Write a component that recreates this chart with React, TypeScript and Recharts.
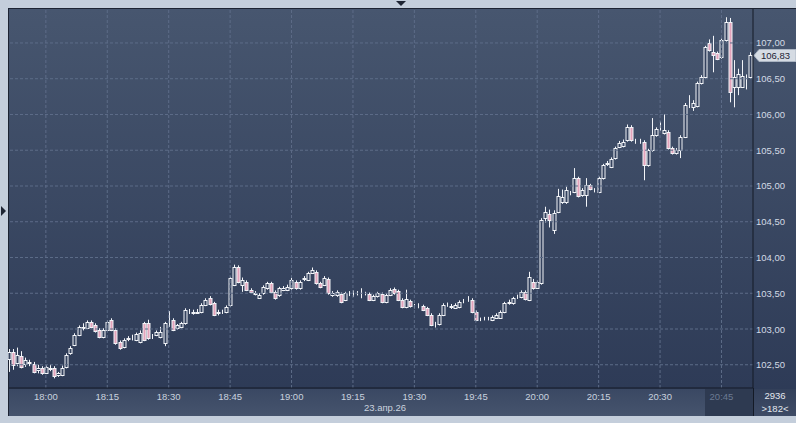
import React from "react";
import { ComposedChart, Bar, XAxis, YAxis, ReferenceLine } from "recharts";

// one candle per minute, first one at 17:51 (minute -9 from 18:00)
const startMinute = -9;

const opens = [
  102.58, 102.68, 102.52, 102.62, 102.51, 102.52, 102.51, 102.42, 102.45, 102.39,
  102.44, 102.45, 102.36, 102.36, 102.47, 102.66, 102.78, 102.92, 103.02, 103.02,
  103.10, 103.06, 102.99, 102.89, 102.99, 103.13, 102.99, 102.82, 102.75, 102.86,
  102.87, 102.85, 102.82, 103.08, 103.08, 102.89, 102.92, 102.89, 102.80, 103.12,
  103.13, 103.01, 103.03, 103.08, 103.24, 103.24, 103.23, 103.24, 103.34, 103.43,
  103.36, 103.22, 103.24, 103.24, 103.33, 103.62, 103.87, 103.62, 103.66, 103.54,
  103.51, 103.44, 103.50, 103.57, 103.64, 103.52, 103.47, 103.55, 103.55, 103.57,
  103.66, 103.57, 103.70, 103.69, 103.79, 103.80, 103.64, 103.62, 103.70, 103.47,
  103.47, 103.49, 103.41, 103.50, 103.49, 103.50, 103.49, 103.50, 103.49, 103.41,
  103.46, 103.49, 103.38, 103.48, 103.56, 103.53, 103.41, 103.31, 103.39, 103.32,
  103.32, 103.32, 103.29, 103.20, 103.07, 103.07, 103.20, 103.34, 103.32, 103.30,
  103.31, 103.39, 103.41, 103.41, 103.24, 103.14, 103.15, 103.15, 103.13, 103.16,
  103.16, 103.24, 103.37, 103.36, 103.45, 103.45, 103.52, 103.41, 103.66, 103.58,
  103.64, 104.55, 104.61, 104.39, 104.64, 104.78, 104.77, 104.90, 104.92, 105.11,
  104.87, 104.88, 105.01, 104.94, 104.92, 105.11, 105.31, 105.27, 105.39, 105.55,
  105.56, 105.64, 105.83, 105.62, 105.62, 105.62, 105.29, 105.50, 105.71, 105.80,
  105.74, 105.76, 105.53, 105.46, 105.50, 105.69, 106.16, 106.11, 106.12, 106.44,
  106.52, 107.00, 106.87, 106.86, 106.80, 107.04, 107.29, 106.38, 106.38, 106.39,
  106.53, 106.52,
];

const highs = [
  102.72, 102.72, 102.74, 102.69, 102.60, 102.57, 102.54, 102.50, 102.48, 102.49,
  102.50, 102.48, 102.40, 102.49, 102.66, 102.76, 102.94, 103.05, 103.08, 103.12,
  103.12, 103.08, 103.01, 103.01, 103.12, 103.15, 103.01, 102.84, 102.87, 102.90,
  102.92, 102.95, 102.98, 103.10, 103.13, 102.93, 102.98, 103.03, 103.10, 103.25,
  103.15, 103.07, 103.10, 103.29, 103.28, 103.27, 103.28, 103.36, 103.43, 103.46,
  103.38, 103.27, 103.27, 103.33, 103.73, 103.90, 103.89, 103.72, 103.68, 103.57,
  103.53, 103.50, 103.61, 103.66, 103.66, 103.54, 103.59, 103.60, 103.62, 103.72,
  103.68, 103.68, 103.74, 103.80, 103.86, 103.82, 103.66, 103.74, 103.72, 103.53,
  103.54, 103.51, 103.52, 103.53, 103.54, 103.53, 103.57, 103.52, 103.51, 103.48,
  103.52, 103.51, 103.50, 103.57, 103.58, 103.55, 103.43, 103.55, 103.41, 103.35,
  103.36, 103.34, 103.31, 103.22, 103.10, 103.22, 103.36, 103.37, 103.35, 103.36,
  103.40, 103.42, 103.46, 103.43, 103.26, 103.16, 103.17, 103.17, 103.19, 103.22,
  103.26, 103.38, 103.41, 103.45, 103.48, 103.54, 103.54, 103.80, 103.70, 103.68,
  104.55, 104.71, 104.67, 104.66, 104.96, 104.95, 104.99, 104.93, 105.25, 105.13,
  104.97, 105.11, 105.03, 104.97, 105.13, 105.31, 105.35, 105.40, 105.55, 105.63,
  105.65, 105.86, 105.85, 105.66, 105.66, 105.64, 105.52, 105.95, 105.82, 105.90,
  106.00, 105.78, 105.55, 105.53, 105.71, 106.16, 106.27, 106.20, 106.46, 106.55,
  106.96, 107.05, 107.10, 106.88, 107.06, 107.36, 107.35, 106.76, 106.64, 106.76,
  106.56, 106.87,
];

const lows = [
  102.40, 102.43, 102.48, 102.45, 102.47, 102.48, 102.38, 102.38, 102.36, 102.37,
  102.41, 102.31, 102.33, 102.34, 102.45, 102.64, 102.76, 102.90, 102.98, 103.00,
  103.01, 102.95, 102.87, 102.87, 102.97, 102.97, 102.78, 102.71, 102.73, 102.83,
  102.84, 102.83, 102.80, 102.83, 102.85, 102.86, 102.90, 102.87, 102.76, 103.03,
  102.97, 102.99, 103.01, 103.06, 103.21, 103.20, 103.21, 103.22, 103.32, 103.33,
  103.18, 103.19, 103.21, 103.22, 103.31, 103.60, 103.64, 103.52, 103.53, 103.50,
  103.47, 103.42, 103.48, 103.55, 103.50, 103.41, 103.45, 103.53, 103.53, 103.55,
  103.55, 103.55, 103.67, 103.67, 103.77, 103.62, 103.57, 103.60, 103.48, 103.45,
  103.45, 103.36, 103.39, 103.46, 103.45, 103.47, 103.43, 103.47, 103.39, 103.39,
  103.44, 103.36, 103.36, 103.46, 103.48, 103.39, 103.29, 103.29, 103.30, 103.29,
  103.29, 103.25, 103.18, 103.04, 103.02, 103.05, 103.18, 103.31, 103.28, 103.28,
  103.29, 103.36, 103.38, 103.22, 103.11, 103.11, 103.12, 103.12, 103.11, 103.14,
  103.14, 103.22, 103.34, 103.34, 103.42, 103.43, 103.40, 103.39, 103.55, 103.56,
  103.62, 104.49, 104.42, 104.33, 104.62, 104.75, 104.75, 104.87, 104.90, 104.84,
  104.85, 104.71, 104.94, 104.91, 104.90, 105.09, 105.28, 105.25, 105.37, 105.53,
  105.54, 105.62, 105.62, 105.59, 105.59, 105.08, 105.27, 105.48, 105.69, 105.77,
  105.72, 105.51, 105.44, 105.44, 105.39, 105.67, 106.09, 106.05, 106.10, 106.42,
  106.50, 106.88, 106.59, 106.76, 106.78, 107.02, 106.17, 106.10, 106.27, 106.37,
  106.35, 106.50,
];

const closes = [
  102.68, 102.50, 102.64, 102.47, 102.56, 102.54, 102.40, 102.46, 102.38, 102.47,
  102.45, 102.34, 102.38, 102.46, 102.64, 102.73, 102.92, 103.03, 103.03, 103.10,
  103.03, 102.97, 102.89, 102.99, 103.10, 102.99, 102.80, 102.73, 102.85, 102.87,
  102.87, 102.93, 102.94, 102.85, 102.87, 102.89, 102.96, 102.96, 103.08, 103.13,
  102.99, 103.05, 103.08, 103.27, 103.24, 103.23, 103.24, 103.34, 103.41, 103.35,
  103.20, 103.24, 103.24, 103.31, 103.71, 103.87, 103.66, 103.69, 103.55, 103.52,
  103.49, 103.48, 103.59, 103.64, 103.52, 103.43, 103.57, 103.57, 103.59, 103.69,
  103.57, 103.66, 103.71, 103.78, 103.83, 103.64, 103.59, 103.71, 103.50, 103.51,
  103.52, 103.38, 103.50, 103.50, 103.49, 103.50, 103.49, 103.50, 103.41, 103.46,
  103.50, 103.38, 103.48, 103.55, 103.50, 103.41, 103.31, 103.42, 103.32, 103.32,
  103.32, 103.27, 103.20, 103.06, 103.07, 103.20, 103.34, 103.34, 103.31, 103.34,
  103.38, 103.39, 103.41, 103.24, 103.13, 103.14, 103.15, 103.15, 103.17, 103.20,
  103.24, 103.36, 103.38, 103.43, 103.45, 103.52, 103.42, 103.73, 103.58, 103.66,
  104.52, 104.64, 104.52, 104.62, 104.86, 104.85, 104.94, 104.90, 105.11, 104.86,
  104.94, 105.01, 104.96, 104.94, 105.11, 105.29, 105.32, 105.38, 105.53, 105.60,
  105.62, 105.83, 105.64, 105.62, 105.62, 105.29, 105.50, 105.71, 105.80, 105.80,
  105.78, 105.53, 105.46, 105.51, 105.69, 106.13, 106.16, 106.16, 106.44, 106.52,
  106.94, 106.90, 106.83, 106.78, 107.04, 107.29, 106.31, 106.52, 106.57, 106.54,
  106.53, 106.83,
];

const timeTicks = [0, 15, 30, 45, 60, 75, 90, 105, 120, 135, 150, 165];
const priceTicks = [102.5, 103, 103.5, 104, 104.5, 105, 105.5, 106, 106.5, 107];
const lastPrice = 106.83;
const dateLabel = "23.апр.26";
const totalBars = "2936";
const shownBars = ">182<";

const data = opens.map((o, i) => ({
  t: startMinute + i,
  o,
  h: highs[i],
  l: lows[i],
  c: closes[i],
}));

const font = "'Liberation Sans', Arial, sans-serif";
const gridColor = "#5d6c88";

const fmtTime = (m: number) => {
  const total = 18 * 60 + m;
  const hh = Math.floor(total / 60);
  const mm = total % 60;
  return `${hh}:${mm < 10 ? "0" + mm : mm}`;
};

const fmtPrice = (v: number) => v.toFixed(2).replace(".", ",");

function Candle(props: any) {
  const { x, y, width, height, payload } = props;
  if (!payload) return null;
  const { o, h, l, c } = payload;
  const top = Math.min(y, y + height);
  const span = Math.abs(height);
  const ppu = h - l > 0 ? span / (h - l) : 0;
  const yOf = (v: number) => top + (h - v) * ppu;
  const cx = Math.round(x + width / 2);
  const bTop = Math.round(yOf(Math.max(o, c)));
  const bBot = Math.round(yOf(Math.min(o, c)));
  const up = c >= o;
  return (
    <g>
      <line x1={cx + 0.5} x2={cx + 0.5} y1={top} y2={top + span} stroke="#f2f4f8" strokeWidth={1} />
      <rect
        x={cx - 1}
        y={bTop + 0.5}
        width={3}
        height={Math.max(bBot - bTop, 0)}
        fill={up ? "#34425e" : "#e3a3bb"}
        stroke="#f2f4f8"
        strokeWidth={1}
      />
    </g>
  );
}

function TimeTick(props: any) {
  const { x, y, payload } = props;
  const last = payload.value === 165;
  return (
    <text x={x} y={y + 12} textAnchor="middle" fontSize={9.5} fontFamily={font} fill={last ? "#6c7a93" : "#c9d2df"}>
      {fmtTime(payload.value)}
    </text>
  );
}

function PriceTick(props: any) {
  const { x, y, payload } = props;
  return (
    <text x={x + 3} y={y + 3.5} textAnchor="start" fontSize={9.5} fontFamily={font} fill="#d3dae5">
      {fmtPrice(payload.value)}
    </text>
  );
}

function PriceTag(props: any) {
  const { viewBox } = props;
  if (!viewBox) return null;
  const x0 = viewBox.x + viewBox.width + 1;
  const yc = Math.round(viewBox.y) + 0.5;
  return (
    <g>
      <polygon
        points={`${x0},${yc} ${x0 + 5},${yc - 6} ${x0 + 42},${yc - 6} ${x0 + 42},${yc + 6} ${x0 + 5},${yc + 6}`}
        fill="#d5dbe3"
        stroke="#aab4c2"
        strokeWidth={1}
      />
      <text x={x0 + 7} y={yc + 3.5} fontSize={9.5} fontFamily={font} fill="#1d2433">
        {fmtPrice(lastPrice)}
      </text>
    </g>
  );
}

export default function App() {
  return (
    <div style={{ position: "absolute", left: 0, top: 0, width: 796, height: 423, background: "#c4cedb", overflow: "hidden", fontFamily: font }}>
      {/* chart panel */}
      <div style={{ position: "absolute", left: 8, top: 8, width: 788, height: 408, boxSizing: "border-box", borderTop: "1px solid #1c2332", borderLeft: "1px solid #1c2332", background: "linear-gradient(#47566f, #2c3955)" }} />
      {/* time axis strip */}
      <div style={{ position: "absolute", left: 9, top: 389, width: 744, height: 27, background: "linear-gradient(#3a4863, #46546d)" }} />
      <div style={{ position: "absolute", left: 705, top: 389, width: 48, height: 27, background: "#2e3a51" }} />
      <div style={{ position: "absolute", left: 754, top: 389, width: 42, height: 27, background: "linear-gradient(#33405a, #3e4b65)" }} />
      <div style={{ position: "absolute", left: 753, top: 388, width: 1, height: 28, background: "#141a26" }} />
      {/* scroll arrows */}
      <div style={{ position: "absolute", left: 396, top: 1, width: 0, height: 0, borderLeft: "5px solid transparent", borderRight: "5px solid transparent", borderTop: "5px solid #1e2533" }} />
      <div style={{ position: "absolute", left: 1, top: 206, width: 0, height: 0, borderTop: "5px solid transparent", borderBottom: "5px solid transparent", borderLeft: "5px solid #1e2533" }} />

      <div style={{ position: "absolute", left: 8, top: 8 }}>
        <ComposedChart width={788} height={408} data={data} margin={{ top: 1, right: 0, bottom: 0, left: 1 }}>
          <XAxis
            dataKey="t"
            type="number"
            domain={[-9, 172.7]}
            ticks={timeTicks}
            interval={0}
            height={28}
            tickLine={false}
            tickSize={0}
            tickMargin={0}
            axisLine={{ stroke: "#141a26" }}
            tick={<TimeTick />}
          />
          <YAxis
            orientation="right"
            type="number"
            domain={[102.175, 107.475]}
            ticks={priceTicks}
            interval={0}
            width={43}
            tickLine={false}
            tickSize={0}
            tickMargin={0}
            axisLine={{ stroke: "#141a26" }}
            tick={<PriceTick />}
          />
          {/* dotted grid only at the tick values */}
          {priceTicks.map((v) => (
            <ReferenceLine key={"h" + v} y={v} stroke={gridColor} strokeDasharray="3 2" />
          ))}
          {timeTicks.map((v) => (
            <ReferenceLine key={"v" + v} x={v} stroke={gridColor} strokeDasharray="3 2" />
          ))}
          <Bar dataKey={(d: any) => [d.l, d.h]} barSize={4} shape={<Candle />} isAnimationActive={false} />
          <ReferenceLine y={lastPrice} stroke="none" label={<PriceTag />} />
        </ComposedChart>
      </div>

      <div style={{ position: "absolute", left: 320, top: 402, width: 130, textAlign: "center", fontSize: 9.5, lineHeight: "12px", color: "#c9d2df" }}>{dateLabel}</div>
      <div style={{ position: "absolute", left: 754, top: 390, width: 42, textAlign: "center", fontSize: 9.5, lineHeight: "12px", color: "#e3e8ef" }}>{totalBars}</div>
      <div style={{ position: "absolute", left: 754, top: 403, width: 42, textAlign: "center", fontSize: 9.5, lineHeight: "12px", color: "#e3e8ef" }}>{shownBars}</div>
    </div>
  );
}
